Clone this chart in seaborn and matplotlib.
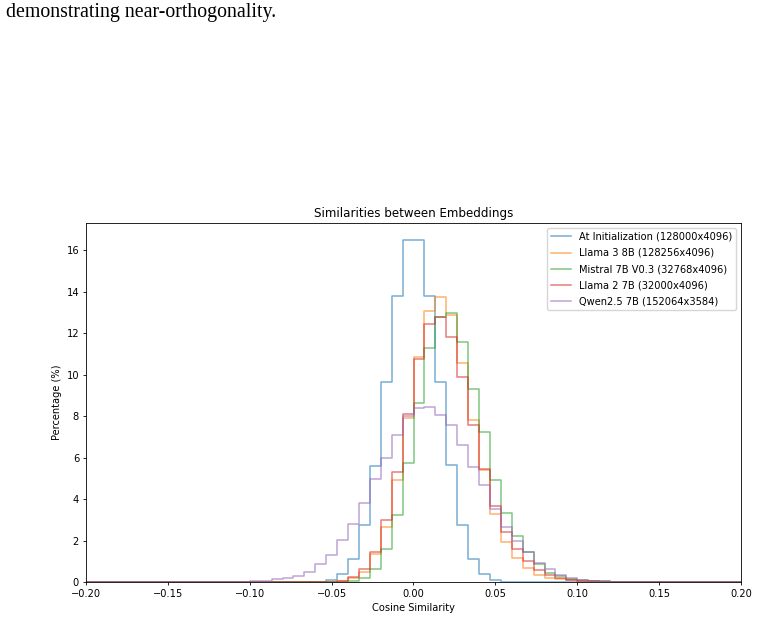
import numpy as np
import pandas as pd
import matplotlib
matplotlib.use("Agg")
import matplotlib.pyplot as plt
import seaborn as sns

# 60 equal bins over [-0.2, 0.2]; values are percentage of pairs per bin
edges = np.linspace(-0.2, 0.2, 61)
centers = (edges[:-1] + edges[1:]) / 2

labels = [
    "At Initialization (128000x4096)",
    "Llama 3 8B (128256x4096)",
    "Mistral 7B V0.3 (32768x4096)",
    "Llama 2 7B (32000x4096)",
    "Qwen2.5 7B (152064x3584)",
]
colors = ["tab:blue", "tab:orange", "tab:green", "tab:red", "tab:purple"]

# first non-empty bin index for each series, then the bin values
init_start = 21
init_pct = [0.02, 0.08, 0.37, 1.13, 2.73, 5.62, 9.66, 13.8, 16.5, 16.5, 13.8, 9.65,
            5.63, 2.73, 1.12, 0.37, 0.08, 0.02]

llama3_start = 22
llama3_pct = [0.02, 0.05, 0.18, 0.5, 1.34, 2.67, 4.93, 7.9, 10.86, 13.07, 13.76, 12.9,
              10.57, 7.8, 5.42, 3.27, 1.95, 1.14, 0.66, 0.34, 0.21, 0.13, 0.08, 0.05,
              0.03, 0.02, 0.01]

mistral_start = 23
mistral_pct = [0.02, 0.05, 0.18, 0.63, 1.58, 3.21, 5.73, 8.64, 11.29, 12.8, 13.0, 11.58,
               9.33, 7.23, 4.9, 3.32, 2.2, 1.43, 0.87, 0.45, 0.27, 0.15, 0.09, 0.05,
               0.03, 0.02, 0.01, 0.01]

llama2_start = 22
llama2_pct = [0.02, 0.06, 0.23, 0.61, 1.47, 3.0, 5.3, 8.1, 10.76, 12.47, 12.79, 11.83,
              9.89, 7.59, 5.45, 3.69, 2.43, 1.58, 1.0, 0.58, 0.34, 0.2, 0.12, 0.07,
              0.04, 0.02, 0.01]

qwen_start = 13
qwen_pct = [0.01, 0.02, 0.04, 0.07, 0.13, 0.18, 0.3, 0.5, 0.87, 1.32, 2.05, 2.8, 3.8,
            4.97, 6.0, 7.07, 8.0, 8.39, 8.44, 8.08, 7.58, 6.6, 5.55, 4.66, 3.51, 2.67,
            1.97, 1.43, 0.93, 0.61, 0.32, 0.18, 0.1, 0.05, 0.03, 0.02, 0.01]

series = [
    (init_start, init_pct),
    (llama3_start, llama3_pct),
    (mistral_start, mistral_pct),
    (llama2_start, llama2_pct),
    (qwen_start, qwen_pct),
]

fs = 7.1
fig = plt.figure(figsize=(7.58, 6.19), dpi=100)

# part of the paper caption that sits above the figure
fig.text(6 / 758, 1 - 12 / 619, "demonstrating near-orthogonality.",
         family="Liberation Serif", fontsize=14.3, va="center", ha="left")

ax = fig.add_axes([86 / 758, 1 - 582 / 619, 655 / 758, 359 / 619])

for (start, vals), lab, col in zip(series, labels, colors):
    w = np.zeros(len(centers))
    w[start:start + len(vals)] = vals
    df = pd.DataFrame({"cos": centers, "pct": w})
    sns.histplot(data=df, x="cos", weights="pct", bins=edges.tolist(), element="step",
                 fill=False, color=col, alpha=0.6, linewidth=1.1, label=lab, ax=ax)

ax.set_xlim(-0.2, 0.2)
ax.set_xticks(np.arange(-0.2, 0.201, 0.05))
ax.set_yticks(np.arange(0, 17, 2))
ax.set_title("Similarities between Embeddings", fontsize=8.6, pad=4.3)
ax.set_xlabel("Cosine Similarity", fontsize=fs, labelpad=3)
ax.set_ylabel("Percentage (%)", fontsize=fs, labelpad=3)
ax.tick_params(labelsize=fs, length=2.5, width=0.6, pad=2.5)
for s in ax.spines.values():
    s.set_linewidth(0.6)
ax.legend(loc="upper right", fontsize=fs, labelspacing=0.62)

fig.savefig("out.png", dpi=100)
